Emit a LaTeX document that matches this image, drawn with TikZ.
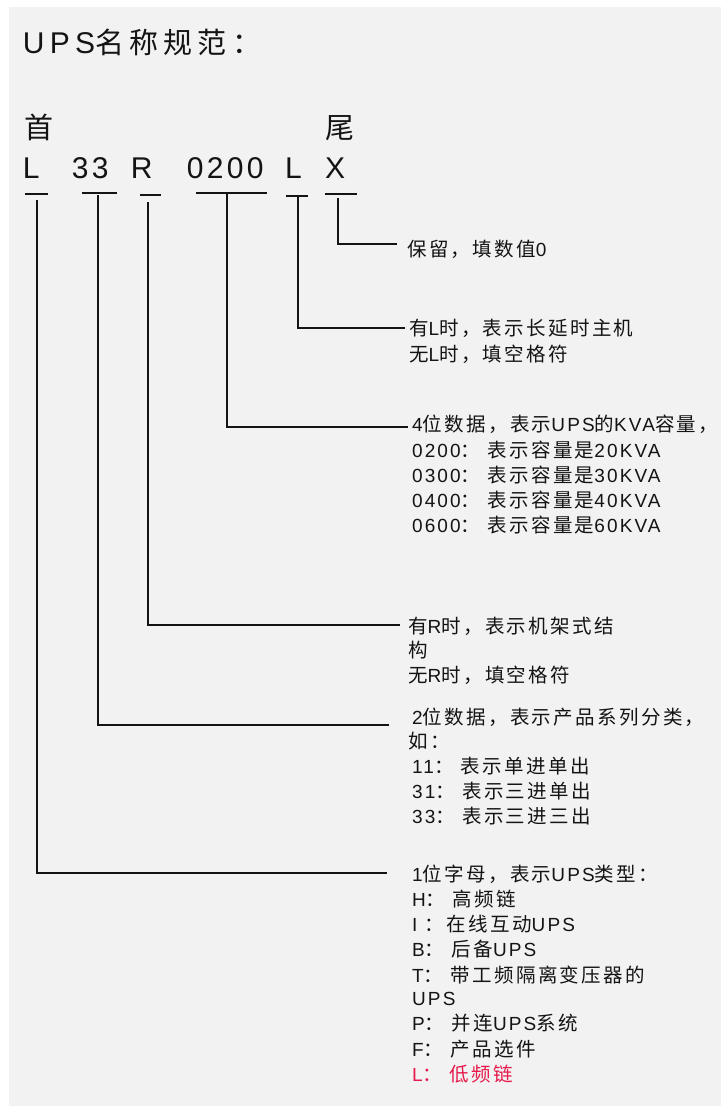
\documentclass[tikz,border=0pt]{standalone}
\usepackage{fontspec}
\setmainfont{Liberation Sans}[LetterSpace=11]
\newfontfamily\titf{Liberation Sans}[LetterSpace=18]
\newfontfamily\labf{Liberation Sans}[LetterSpace=11]
\newfontfamily\cjk{Noto Sans CJK SC}[LetterSpace=12]
\newfontfamily\cjkt{Noto Sans CJK SC}[LetterSpace=18]
\newcommand\zh[1]{{\cjk\fontsize{19.5}{19.5}\selectfont #1}}
\newcommand\zt[1]{{\cjkt\fontsize{29}{30}\selectfont #1}}
\definecolor{bg}{HTML}{F2F2F2}
\definecolor{ink}{HTML}{141414}
\definecolor{redlab}{HTML}{E6194B}
\tikzset{
  lab/.style={anchor=base west, inner sep=0pt, font=\labf\fontsize{19}{19}\selectfont, text=ink},
  codetxt/.style={anchor=base west, inner sep=0pt, font=\fontsize{30}{30}\selectfont, text=ink},
  bar/.style={line width=1.4pt, draw=ink},
  conn/.style={line width=1.6pt, draw=ink},
}
\begin{document}
\begin{tikzpicture}[x=1pt,y=-1pt]
\useasboundingbox (0,0) rectangle (721,1106);
\fill[white] (0,0) rectangle (721,1106);
\fill[bg] (9,7) rectangle (721,1106);

% title
\node[codetxt, font=\titf\fontsize{30}{30}\selectfont] (title) at (22.6,53) {UPS\zt{名称规范：}};
\node[codetxt] (head) at (24,138) {\zt{首}};
\node[codetxt] (tail) at (325,138) {\zt{尾}};

% code
\node[codetxt] (cL)  at (22.8,178) {L};
\node[codetxt] (c33) at (71.7,178) {33};
\node[codetxt] (cR)  at (130.6,178) {R};
\node[codetxt] (c0200) at (186.7,178) {0200};
\node[codetxt] (cL2) at (284.8,178) {L};
\node[codetxt] (cX)  at (325,178) {X};

% underline bars
\draw[bar] (25,194) -- (48,194);
\draw[bar] (82,193) -- (117,193);
\draw[bar] (140,195) -- (161,195);
\draw[bar] (196,193) -- (267,193);
\draw[bar] (286,196) -- (308,196);
\draw[bar] (325,194) -- (357,194);

% connector coordinates
\coordinate (sX) at (338,198);   \coordinate (eX) at (397,244);
\coordinate (sL2) at (298,197);  \coordinate (eL2) at (405,328);
\coordinate (s0200) at (227,193); \coordinate (e0200) at (408,427);
\coordinate (sR) at (148,202);   \coordinate (eR) at (400,625);
\coordinate (s33) at (98,195);   \coordinate (e33) at (389,725);
\coordinate (sL) at (37,200);    \coordinate (eL) at (387,873);

\draw[conn] (sX) |- (eX);
\draw[conn] (sL2) |- (eL2);
\draw[conn] (s0200) |- (e0200);
\draw[conn] (sR) |- (eR);
\draw[conn] (s33) |- (e33);
\draw[conn] (sL) |- (eL);

% labels
\node[lab] (tX) at (407,256.5) {\zh{保留，填数值}0};

\node[lab] (tL2a) at (409,335.5) {\zh{有}L\zh{时，表示长延时主机}};
\node[lab] (tL2b) at (409,361.5) {\zh{无}L\zh{时，填空格符}};

\node[lab] (t0a) at (412,431.5) {4\zh{位数据，表示}UPS\zh{的}KVA\zh{容量，}};
\node[lab] (t0b) at (412,457) {0200\zh{：} \zh{表示容量是}20KVA};
\node[lab] (t0c) at (412,482.5) {0300\zh{：} \zh{表示容量是}30KVA};
\node[lab] (t0d) at (412,507.5) {0400\zh{：} \zh{表示容量是}40KVA};
\node[lab] (t0e) at (412,532.5) {0600\zh{：} \zh{表示容量是}60KVA};

\node[lab] (tRa) at (408,633) {\zh{有}R\zh{时，表示机架式结}};
\node[lab] (tRb) at (408,657) {\zh{构}};
\node[lab] (tRc) at (408,682) {\zh{无}R\zh{时，填空格符}};

\node[lab] (t3a) at (412,724.5) {2\zh{位数据，表示产品系列分类，}};
\node[lab] (t3b) at (408,748.5) {\zh{如：}};
\node[lab] (t3c) at (412,773.5) {11\zh{：} \zh{表示单进单出}};
\node[lab] (t3d) at (412,798.5) {31\zh{：} \zh{表示三进单出}};
\node[lab] (t3e) at (412,823.5) {33\zh{：} \zh{表示三进三出}};

\node[lab] (t1a) at (412,881.5) {1\zh{位字母，表示}UPS\zh{类型：}};
\node[lab] (t1b) at (412,906.5) {H\zh{：} \zh{高频链}};
\node[lab] (t1c) at (412,931.5) {I \zh{：在线互动}UPS};
\node[lab] (t1d) at (412,956.5) {B\zh{：} \zh{后备}UPS};
\node[lab] (t1e) at (412,982) {T\zh{：} \zh{带工频隔离变压器的}};
\node[lab] (t1f) at (412,1005.5) {UPS};
\node[lab] (t1g) at (412,1030.5) {P\zh{：} \zh{并连}UPS\zh{系统}};
\node[lab] (t1h) at (412,1056) {F\zh{：} \zh{产品选件}};
\node[lab, text=redlab] (t1i) at (412,1081) {L\zh{：} \zh{低频链}};
\end{tikzpicture}
\end{document}
